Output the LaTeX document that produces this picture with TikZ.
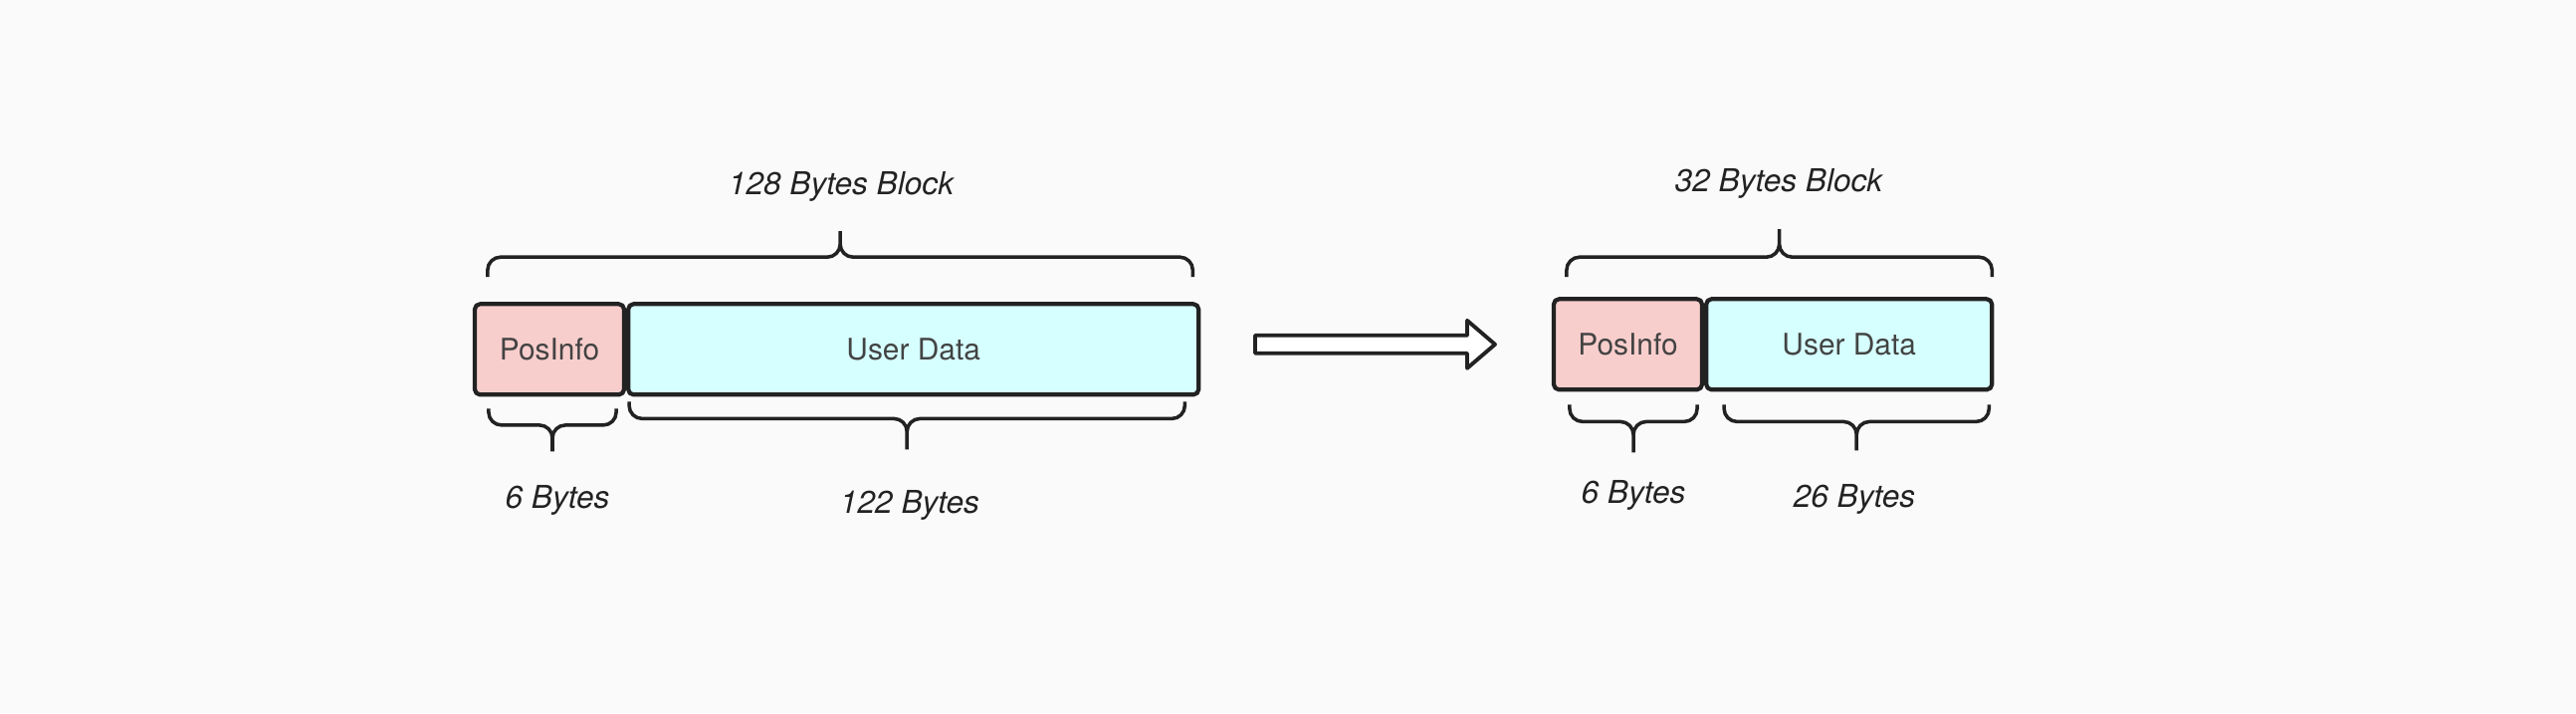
\documentclass[tikz,border=0pt]{standalone}
\usepackage{fontspec}
\setmainfont{TeX Gyre Heros}
\usetikzlibrary{calc,positioning}
\definecolor{posred}{HTML}{F8CECC}
\definecolor{datacyan}{HTML}{D6FFFF}
\definecolor{ink}{HTML}{222222}
\definecolor{bgpaper}{HTML}{FAFAFA}

\begin{document}
\begin{tikzpicture}[line join=round]
  % --- Styles ---
    \tikzset{
      blk/.style    = {draw=ink,line width=1.2pt,rounded corners=1.5pt,minimum height=9.1mm,inner sep=0pt,
                       font=\fontsize{8.5}{10}\selectfont,text=ink!85},
      posblk/.style = {blk,fill=posred},
      datblk/.style = {blk,fill=datacyan},
      % curly bracket: #1 = height of the bar, #2 = height of the tip (left of the drawing direction)
      brc/.style 2 args = {draw=ink,line width=1pt,rounded corners=1.3mm,
        to path={let \p1=(\tikztostart),\p2=(\tikztotarget),\n1={ifthenelse(\x2>\x1,1,-1)} in
          (\p1) -- (\x1,{\y1+\n1*#1}) -- ({(\x1+\x2)/2},{\y1+\n1*#1}) -- ({(\x1+\x2)/2},{\y1+\n1*#2})
          (\p2) -- (\x2,{\y2+\n1*#1}) -- ({(\x1+\x2)/2},{\y2+\n1*#1}) -- ({(\x1+\x2)/2},{\y2+\n1*#2})}},
      lab/.style    = {font=\fontsize{9}{11}\selectfont\itshape,text=ink}
    }

    % --- Canvas ---
    \fill[bgpaper] (0,0) rectangle (25.88,7.163);
    \useasboundingbox (0,0) rectangle (25.88,7.163);

    % --- 128 bytes block ---
    \node[posblk,minimum width=15mm] (pos1) at (5.52,3.655) {PosInfo};
    \node[datblk,minimum width=57.3mm,right=0pt of pos1] (ud1) {User Data};

    \draw[brc={2mm}{4.6mm}] ($(pos1.north west)+(0.15,0.25)$) to ($(ud1.north east)+(-0.08,0.25)$);
    \draw[brc={1.65mm}{4.3mm}] ($(pos1.south east)+(-0.1,-0.12)$) to ($(pos1.south west)+(0.16,-0.12)$);
    \draw[brc={1.7mm}{4.8mm}] ($(ud1.south east)+(-0.16,-0.05)$) to ($(ud1.south west)+(0.03,-0.05)$);

    \node[lab] (l128) at (8.45,5.29) {128 Bytes Block};
    \node[lab] (l6a)  at (5.60,2.14) {6 Bytes};
    \node[lab] (l122) at (9.14,2.09) {122 Bytes};

    % --- Block arrow ---
    \coordinate (arrS) at (12.61,3.705);
    \coordinate (arrE) at (15.02,3.705);
    \draw[ink,line width=1.1pt,fill=white] ($(arrS)+(0,0.09)$) -- ($(arrE)+(-0.28,0.09)$)
      -- ($(arrE)+(-0.28,0.24)$) -- (arrE) -- ($(arrE)+(-0.28,-0.24)$)
      -- ($(arrE)+(-0.28,-0.09)$) -- ($(arrS)+(0,-0.09)$) -- cycle;

    % --- 32 bytes block ---
    \node[posblk,minimum width=14.9mm] (pos2) at (16.355,3.705) {PosInfo};
    \node[datblk,minimum width=28.7mm,right=0pt of pos2] (ud2) {User Data};

    \draw[brc={2mm}{4.8mm}] ($(pos2.north west)+(0.15,0.2)$) to ($(ud2.north east)+(-0.02,0.2)$);
    \draw[brc={1.7mm}{4.8mm}] ($(pos2.south east)+(-0.07,-0.13)$) to ($(pos2.south west)+(0.18,-0.13)$);
    \draw[brc={1.7mm}{4.6mm}] ($(ud2.south east)+(-0.05,-0.13)$) to ($(ud2.south west)+(0.2,-0.13)$);

    \node[lab] (l32) at (17.87,5.32) {32 Bytes Block};
    \node[lab] (l6b) at (16.41,2.19) {6 Bytes};
    \node[lab] (l26) at (18.63,2.15) {26 Bytes};

\end{tikzpicture}
\end{document}
